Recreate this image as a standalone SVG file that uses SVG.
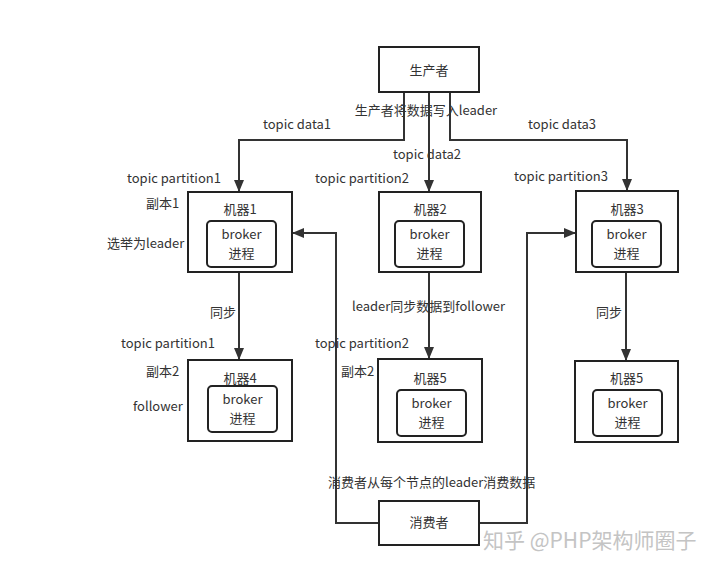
<svg xmlns="http://www.w3.org/2000/svg" width="720" height="577" viewBox="0 0 720 577">
<defs>
<style>
.box{fill:#fff;stroke:#222;stroke-width:2}
.inner{fill:#fff;stroke:#222;stroke-width:2}
.t{font-family:"Noto Sans CJK SC","Noto Sans",sans-serif;font-size:13px;fill:#333}
.c{text-anchor:middle}
.ln{fill:none;stroke:#333;stroke-width:2}
.wm{font-family:"Noto Sans CJK SC","Noto Sans",sans-serif;font-size:21px;fill:#c4c4c4}
</style>
<marker id="arr" viewBox="0 0 12 12" refX="11" refY="6" markerWidth="12" markerHeight="12" markerUnits="userSpaceOnUse" orient="auto">
<path d="M0,1 L12,6 L0,11 Z" fill="#333"/>
</marker>
</defs>
<rect width="720" height="577" fill="#fff"/>
<g id="connectors">
<path class="ln" d="M404,92 V140 H239 V191" marker-end="url(#arr)"/>
<path class="ln" d="M429,92 V191" marker-end="url(#arr)"/>
<path class="ln" d="M450,92 V140 H627 V190" marker-end="url(#arr)"/>
<path class="ln" d="M239,272 V359" marker-end="url(#arr)"/>
<path class="ln" d="M429,272 V358" marker-end="url(#arr)"/>
<path class="ln" d="M626,272 V360" marker-end="url(#arr)"/>
<path class="ln" d="M379,523 H336 V233 H293" marker-end="url(#arr)"/>
<path class="ln" d="M479,523 H527 V233 H575" marker-end="url(#arr)"/>
</g>
<g id="producer">
<rect class="box" x="379" y="47" width="100" height="45"/>
<text class="t c" x="429" y="75">生产者</text>
</g>
<g id="machine1">
<rect class="box" x="188" y="192" width="104" height="80"/>
<text class="t c" x="240" y="214">机器1</text>
<rect class="inner" x="207" y="221" width="69" height="46" rx="4"/>
<text class="t c" x="241.5" y="239">broker</text>
<text class="t c" x="241.5" y="258">进程</text>
</g>
<g id="machine2">
<rect class="box" x="379" y="192" width="102" height="80"/>
<text class="t c" x="430" y="214">机器2</text>
<rect class="inner" x="395" y="221" width="69" height="46" rx="4"/>
<text class="t c" x="429.5" y="239">broker</text>
<text class="t c" x="429.5" y="258">进程</text>
</g>
<g id="machine3">
<rect class="box" x="576" y="191" width="102" height="81"/>
<text class="t c" x="627" y="214">机器3</text>
<rect class="inner" x="592" y="221" width="69" height="46" rx="4"/>
<text class="t c" x="626.5" y="239">broker</text>
<text class="t c" x="626.5" y="258">进程</text>
</g>
<g id="machine4">
<rect class="box" x="188" y="360" width="104" height="81"/>
<text class="t c" x="240" y="383">机器4</text>
<rect class="inner" x="208" y="386" width="69" height="46" rx="4"/>
<text class="t c" x="242.5" y="404">broker</text>
<text class="t c" x="242.5" y="423">进程</text>
</g>
<g id="machine5a">
<rect class="box" x="378" y="359" width="104" height="83"/>
<text class="t c" x="430" y="383">机器5</text>
<rect class="inner" x="397" y="390" width="69" height="46" rx="4"/>
<text class="t c" x="431.5" y="408">broker</text>
<text class="t c" x="431.5" y="427">进程</text>
</g>
<g id="machine5b">
<rect class="box" x="575" y="361" width="103" height="81"/>
<text class="t c" x="626.5" y="383">机器5</text>
<rect class="inner" x="593" y="390" width="69" height="46" rx="4"/>
<text class="t c" x="627.5" y="408">broker</text>
<text class="t c" x="627.5" y="427">进程</text>
</g>
<g id="consumer">
<rect class="box" x="379" y="501" width="100" height="44"/>
<text class="t c" x="429" y="527">消费者</text>
</g>
<g id="labels">
<text class="t c" x="426" y="115">生产者将数据写入leader</text>
<text class="t" x="263" y="129">topic data1</text>
<text class="t" x="528" y="129">topic data3</text>
<text class="t" x="393" y="159">topic data2</text>
<text class="t" x="127" y="183">topic partition1</text>
<text class="t" x="315" y="183">topic partition2</text>
<text class="t" x="514" y="181">topic partition3</text>
<text class="t" x="146" y="208">副本1</text>
<text class="t" x="107" y="248">选举为leader</text>
<text class="t" x="210" y="317">同步</text>
<text class="t" x="352" y="311">leader同步数据到follower</text>
<text class="t" x="596" y="317">同步</text>
<text class="t" x="121" y="348">topic partition1</text>
<text class="t" x="315" y="348">topic partition2</text>
<text class="t" x="146" y="376">副本2</text>
<text class="t" x="341" y="376">副本2</text>
<text class="t" x="133" y="411">follower</text>
<text class="t" x="328" y="487">消费者从每个节点的leader消费数据</text>
<text class="wm" x="483" y="548">知乎 @PHP架构师圈子</text>
</g>
</svg>
